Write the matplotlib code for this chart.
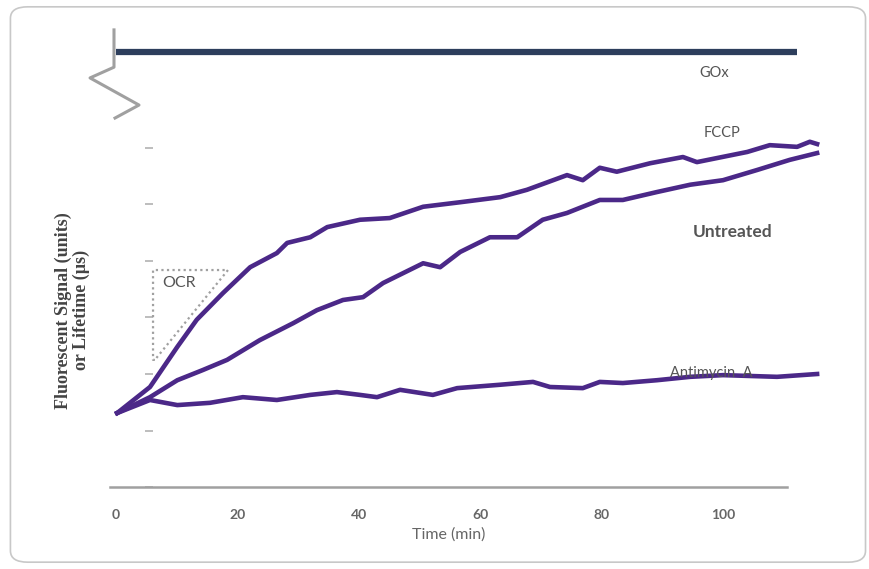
import matplotlib.pyplot as plt
from matplotlib.patches import FancyBboxPatch

# --- data (time in min, signal in arbitrary tick units) ---
fccp_t = [0.2, 5.6, 10.1, 13.3, 17.6, 22.1, 26.5, 28.2, 32.0, 34.8, 40.2, 45.1, 50.6, 56.7,
          63.3, 67.7, 74.3, 76.9, 79.7, 82.5, 88.0, 93.4, 95.7, 104.0, 107.7, 112.2, 114.3, 115.5]
fccp_y = [1.31, 1.77, 2.48, 2.96, 3.43, 3.89, 4.14, 4.32, 4.42, 4.60, 4.73, 4.76, 4.96, 5.04,
          5.13, 5.26, 5.52, 5.43, 5.65, 5.58, 5.73, 5.84, 5.75, 5.93, 6.05, 6.02, 6.11, 6.07]

untr_t = [0.2, 5.6, 10.1, 14.3, 18.3, 23.7, 29.2, 33.1, 37.4, 40.7, 44.0, 50.6, 53.4, 56.7,
          61.6, 66.1, 70.3, 74.3, 79.7, 83.5, 89.1, 94.6, 100.0, 105.6, 111.0, 115.5]
untr_y = [1.31, 1.59, 1.89, 2.07, 2.25, 2.60, 2.90, 3.13, 3.31, 3.36, 3.61, 3.96, 3.89, 4.16,
          4.42, 4.42, 4.73, 4.85, 5.08, 5.08, 5.22, 5.35, 5.43, 5.61, 5.79, 5.91]

anti_t = [0.2, 5.6, 10.1, 15.5, 20.9, 26.5, 32.0, 36.4, 40.2, 43.0, 46.8, 52.2, 56.2, 63.3,
          68.7, 71.5, 76.9, 79.7, 83.5, 89.1, 94.6, 100.0, 108.9, 115.5]
anti_y = [1.31, 1.54, 1.45, 1.49, 1.59, 1.54, 1.63, 1.68, 1.63, 1.59, 1.72, 1.63, 1.75, 1.81,
          1.86, 1.77, 1.75, 1.86, 1.84, 1.89, 1.95, 1.98, 1.95, 2.00]

gox_t = [0.0, 112.2]
gox_y = [7.70, 7.70]

# axis break marker on the left of the GOx bar
break_t = [-0.33, -0.33, -4.28, 3.79, -0.16]
break_y = [8.09, 7.43, 7.24, 6.76, 6.53]

# OCR triangle
ocr_t = [6.4, 6.1, 6.1, 18.45, 6.4]
ocr_y = [2.25, 2.25, 3.84, 3.84, 2.25]

xticks = [0, 20, 40, 60, 80, 100]
yticks = [0, 1, 2, 3, 4, 5, 6]

PURPLE = "#4b2888"
GREY = "#666666"

fig = plt.figure(figsize=(8.69, 5.69), dpi=100)
fig.patches.append(FancyBboxPatch((0.012, 0.012), 0.984, 0.976,
                                  boxstyle="round,pad=0,rounding_size=0.02",
                                  transform=fig.transFigure, fill=False,
                                  edgecolor="#c8c8c8", linewidth=1.2))

ax = fig.add_axes([0, 0, 1, 1])
ax.set_xlim(-19.11, 124.05)
ax.set_ylim(-1.451, 8.619)
ax.patch.set_alpha(0)

for side in ("left", "right", "top"):
    ax.spines[side].set_visible(False)
ax.spines["bottom"].set_position(("data", 0))
ax.spines["bottom"].set_bounds(-1, 110.5)
ax.spines["bottom"].set_color("#a0a0a0")
ax.spines["bottom"].set_linewidth(1.8)

ax.set_xticks(xticks)
ax.set_xticklabels([str(t) for t in xticks], fontsize=10, fontweight="bold",
                   color=GREY, family="Lato")
ax.tick_params(axis="x", length=0, pad=16)
ax.set_yticks([])

ax.set_xlabel("Time (min)", fontsize=11.5, color=GREY, family="Lato")
ax.xaxis.set_label_coords(449 / 869, 1 - 527 / 569)

# y tick dashes
ax.plot([5.5] * len(yticks), yticks, linestyle="none", marker="_",
        markersize=6, markeredgewidth=1.3, color="#b8b8b8", clip_on=False)

# GOx bar and break
ax.plot(gox_t, gox_y, color="#2d3e5c", linewidth=4.5, solid_capstyle="butt")
ax.plot(break_t, break_y, color="#a0a0a0", linewidth=2.2)

# OCR triangle
ax.plot(ocr_t, ocr_y, color="#a0a0a0", linewidth=1.6, linestyle=(0, (1, 1.5)))
ax.text(10.4, 3.61, "OCR", fontsize=11.5, color="#555555", family="Lato",
        ha="center", va="center")

# traces
for t, y in ((anti_t, anti_y), (untr_t, untr_y), (fccp_t, fccp_y)):
    ax.plot(t, y, color=PURPLE, linewidth=3.3, solid_joinstyle="round")

# labels
ax.text(98.5, 7.33, "GOx", fontsize=10.5, color="#555555", family="Lato", ha="center", va="center")
ax.text(99.8, 6.27, "FCCP", fontsize=10.5, color="#555555", family="Lato", ha="center", va="center")
ax.text(101.5, 4.51, "Untreated", fontsize=12.5, color="#555555", family="Lato",
        fontweight="bold", ha="center", va="center")
ax.text(98.0, 2.02, "Antimycin  A", fontsize=10.5, color="#555555", family="Lato",
        ha="center", va="center")

ax.text(-7.2, 3.13, "Fluorescent Signal (units)\nor Lifetime (µs)", rotation=90,
        fontsize=13, fontweight="bold", family="Liberation Serif", color="#444444",
        ha="center", va="center", linespacing=1.0)

fig.savefig("out.png", dpi=100)
